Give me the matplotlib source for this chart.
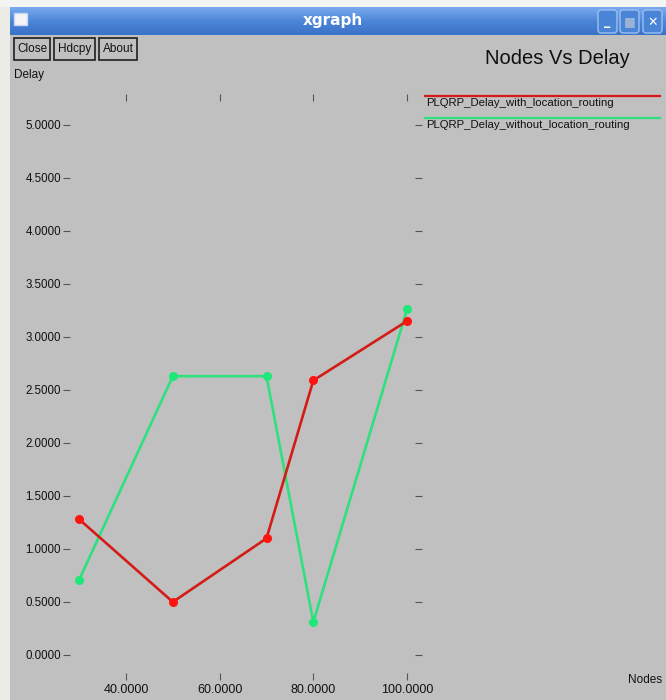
import numpy as np
import matplotlib
import matplotlib.pyplot as plt
from matplotlib.patches import Rectangle, FancyBboxPatch
from matplotlib.colors import LinearSegmentedColormap

matplotlib.use("Agg")

# Data
nodes = [30, 50, 70, 80, 100]
delayWithLoc = [1.28, 0.50, 1.10, 2.59, 3.15]
delayWithoutLoc = [0.71, 2.63, 2.63, 0.31, 3.26]
seriesNames = ["PLQRP_Delay_with_location_routing", "PLQRP_Delay_without_location_routing"]
lineColors = ["#d41c16", "#2fe07e"]
markerColors = ["#ff1410", "#1ee877"]
xTicks = [40, 60, 80, 100]
yTicks = [0.0, 0.5, 1.0, 1.5, 2.0, 2.5, 3.0, 3.5, 4.0, 4.5, 5.0]

plt.rcParams["font.family"] = ["Liberation Sans", "DejaVu Sans"]

W, H = 666, 700
fig = plt.figure(figsize=(W / 100, H / 100), dpi=100, facecolor="#c0c0c0")

# Window chrome drawn in pixel coordinates
chrome = fig.add_axes([0, 0, 1, 1])
chrome.set_xlim(0, W)
chrome.set_ylim(H, 0)
chrome.axis("off")
chrome.add_patch(Rectangle((0, 0), W, 7, color="#f4f4f2", lw=0))
chrome.add_patch(Rectangle((0, 0), 10, H, color="#ecebe6", lw=0, zorder=0.5))
grad = LinearSegmentedColormap.from_list("bar", ["#7aaaee", "#4c86d8", "#3a72c8"])
chrome.imshow(np.linspace(0, 1, 40).reshape(-1, 1), cmap=grad, aspect="auto",
              extent=[10, W, 35, 7], zorder=1)
chrome.add_patch(Rectangle((14, 13), 13, 12, facecolor="#f4f4f4", edgecolor="#c8d8f0", lw=1, zorder=2))
chrome.text(W / 2, 20, "xgraph", color="white", fontsize=11, fontweight="bold",
            family="DejaVu Sans", ha="center", va="center", zorder=3)
for x0, sym, sc in zip([598, 620, 643], ["_", "■", "✕"], ["white", "#9ab4d8", "white"]):
    chrome.add_patch(FancyBboxPatch((x0, 10), 19, 23, boxstyle="round,pad=0,rounding_size=3",
                                    facecolor="#4a84d6", edgecolor="#9cc0ee", lw=1, zorder=2))
    chrome.text(x0 + 9.5, 22, sym, color=sc, fontsize=9, fontweight="bold",
                family="DejaVu Sans", ha="center", va="center", zorder=3)

# Buttons
for x0, x1, label in [(14, 50, "Close"), (54, 95, "Hdcpy"), (99, 137, "About")]:
    chrome.add_patch(Rectangle((x0, 38), x1 - x0, 22, facecolor="#c0c0c0", edgecolor="#202020", lw=1.2))
    chrome.text((x0 + x1) / 2, 49, label, fontsize=8.5, ha="center", va="center", color="#111111")

chrome.text(14, 75, "Delay", fontsize=8.5, ha="left", va="center", color="#111111")
chrome.text(628, 680, "Nodes", fontsize=8.5, ha="left", va="center", color="#111111")
chrome.text(485, 58, "Nodes Vs Delay", fontsize=14.5, ha="left", va="center", color="#111111")

# Legend
for i, (name, col) in enumerate(zip(seriesNames, lineColors)):
    y = 96 + i * 22
    chrome.plot([425, 660], [y, y], color=col, lw=1.6)
    chrome.text(426, y + 7, name, fontsize=8.2, ha="left", va="center", color="#111111")

# Plot area
ax = fig.add_axes([70 / W, 1 - 673 / H, 345 / W, 572 / H])
ax.set_facecolor("none")
ax.set_xlim(28.04, 101.71)
ax.set_ylim(-0.17, 5.226)
for s in ax.spines.values():
    s.set_visible(False)

ax.plot(nodes, delayWithoutLoc, color=lineColors[1], lw=1.9, zorder=2)
ax.plot(nodes, delayWithoutLoc, "o", color=markerColors[1], ms=5.5, zorder=2)
ax.plot(nodes, delayWithLoc, color=lineColors[0], lw=1.9, zorder=3)
ax.plot(nodes, delayWithLoc, "o", color=markerColors[0], ms=5.5, zorder=3)

ax.set_xticks(xTicks)
ax.set_xticklabels(["%.4f" % v for v in xTicks])
ax.set_yticks(yTicks)
ax.set_yticklabels(["%.4f" % v for v in yTicks])
ax.tick_params(axis="y", which="both", left=True, right=True, direction="out",
               length=5, width=0.8, color="#555555", pad=1.5, labelsize=8.3, labelcolor="#111111")
ax.tick_params(axis="x", which="both", bottom=True, top=True, direction="out",
               length=5, width=0.8, color="#555555", pad=3, labelsize=9, labelcolor="#111111")

fig.savefig("out.png", dpi=100, facecolor=fig.get_facecolor())
